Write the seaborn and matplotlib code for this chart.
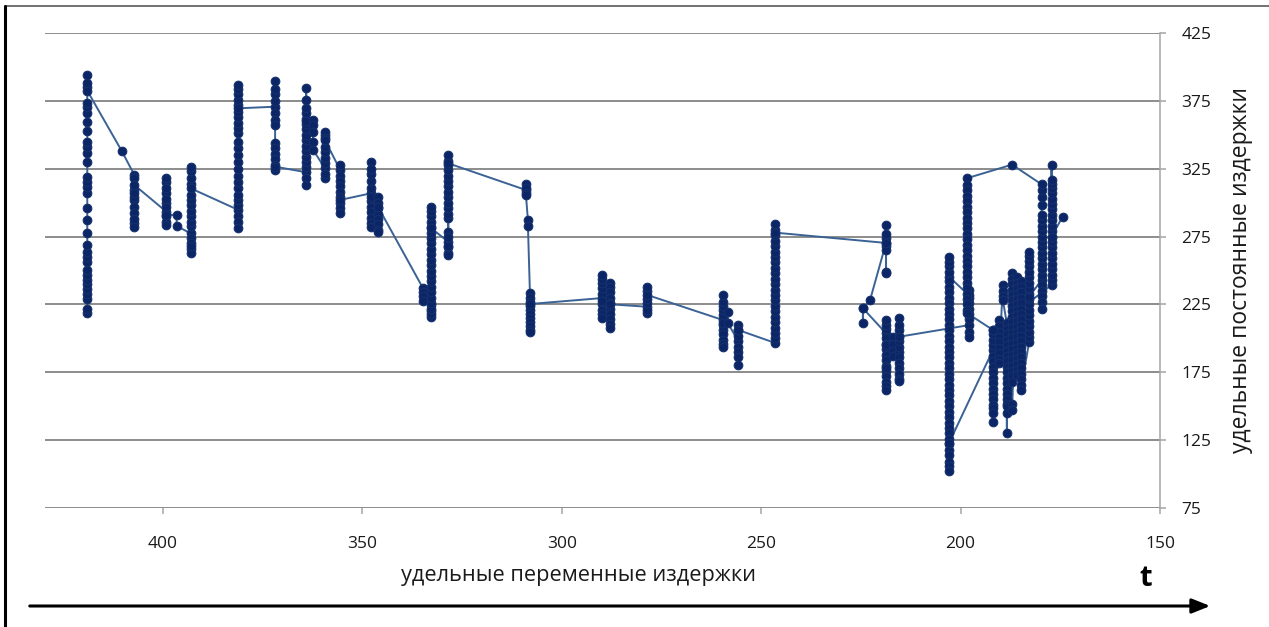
import matplotlib
matplotlib.use("Agg")
import matplotlib.pyplot as plt
from matplotlib.lines import Line2D
from matplotlib.patches import FancyArrowPatch
import seaborn as sns
import pandas as pd

# ---------------- data ----------------
# x position of each vertical group of observations (unit variable cost), in time order
cluster_x = [419.0, 410.4, 407.2, 399.2, 396.6, 393.1, 381.1, 371.9, 364.1, 362.4,
             359.4, 355.6, 347.8, 346.1, 334.8, 332.8, 328.5, 309.0, 308.5, 308.0,
             289.9, 287.9, 278.6, 259.6, 258.3, 255.8, 246.5, 218.7, 222.7, 224.5,
             218.7, 217.0, 215.4, 198.0, 202.9, 191.9, 190.4, 189.4, 188.4, 187.1,
             185.9, 184.9, 182.8, 179.7, 187.1, 198.4, 191.9, 177.2, 174.4]

# unit fixed cost observations of each group, in time order
cluster_y = [
    [218.5, 221.4, 228.8, 232.7, 236.2, 240.1, 243.0, 246.7, 250.4, 256.5, 260.2, 263.9,
     268.8, 277.9, 287.2, 295.8, 306.9, 311.8, 315.4, 319.1, 330.2, 336.4, 340.8, 344.9,
     353.0, 359.6, 365.8, 370.7, 373.6, 385.4, 388.0, 394.1, 382.5],
    [338.3],
    [320.4, 317.9, 309.3, 302.0, 297.0, 292.2, 284.8, 282.3, 288.0, 304.4, 306.9, 313.0],
    [293.4, 300.0, 307.0, 315.0, 317.9, 311.0, 303.0, 297.0, 290.0, 286.0, 283.5, 291.0],
    [290.9, 282.8],
    [277.4, 274.0, 270.0, 266.0, 262.7, 268.0, 282.5, 286.0, 290.0, 294.0, 298.0, 302.0,
     306.0, 314.0, 318.0, 323.0, 326.5, 310.6],
    [294.6, 290.0, 286.0, 281.1, 298.0, 302.0, 306.0, 311.0, 315.0, 320.0, 325.0, 330.0,
     335.0, 340.0, 344.9, 351.3, 355.0, 359.0, 363.0, 367.0, 372.0, 376.0, 380.0, 384.0,
     386.7, 369.5],
    [370.7, 375.0, 380.0, 384.0, 389.9, 366.0, 361.0, 357.0, 344.0, 340.0, 336.0, 332.0,
     328.0, 324.0, 326.5],
    [322.4, 318.0, 313.0, 326.0, 330.0, 334.0, 338.0, 342.0, 346.0, 350.0, 354.0, 358.0,
     362.0, 366.0, 370.0, 376.0, 384.2, 360.0],
    [361.0, 357.0, 352.0, 345.0, 339.0],
    [325.3, 318.0, 321.0, 329.0, 333.0, 337.0, 341.0, 350.0, 352.0, 348.0, 346.2],
    [324.1, 327.7, 320.0, 316.0, 312.0, 308.0, 304.0, 300.0, 296.0, 292.4, 302.0],
    [306.9, 311.0, 316.0, 321.0, 330.2, 325.0, 301.0, 297.0, 293.0, 289.0, 285.0, 282.3, 304.0],
    [304.0, 300.0, 296.0, 292.0, 288.0, 284.0, 280.0, 278.6, 297.0],
    [236.9, 234.0, 231.0, 227.5],
    [224.6, 220.0, 216.0, 218.0, 222.0, 226.0, 230.0, 234.0, 238.0, 242.0, 246.0, 250.0,
     254.0, 258.0, 262.0, 266.0, 270.0, 274.0, 278.0, 282.0, 286.0, 290.0, 294.0, 297.0, 281.3],
    [271.2, 278.6, 275.0, 267.0, 263.0, 261.4, 268.0, 288.7, 292.0, 296.0, 300.0, 304.0,
     308.0, 312.0, 316.0, 320.0, 324.0, 328.0, 331.0, 335.0, 329.0],
    [309.3, 314.0, 311.0, 307.0, 305.6],
    [287.0, 283.0],
    [233.5, 230.0, 227.0, 224.0, 221.0, 218.0, 215.0, 212.0, 209.0, 206.0, 204.7, 225.3],
    [229.7, 233.0, 237.0, 241.0, 244.0, 246.7, 225.0, 221.0, 218.0, 215.0, 227.7],
    [241.0, 238.0, 234.0, 230.0, 226.0, 222.0, 218.0, 214.0, 210.5, 207.6, 225.1],
    [223.3, 218.5, 221.0, 226.0, 229.0, 235.0, 238.0, 232.0],
    [213.5, 217.0, 221.0, 224.0, 227.0, 232.0, 210.0, 206.0, 203.0, 199.0, 196.0, 194.0, 211.0],
    [219.7, 211.0],
    [198.0, 194.0, 190.0, 186.0, 180.5, 202.0, 206.0, 210.0, 206.2],
    [196.6, 200.0, 204.0, 208.0, 212.0, 216.0, 220.0, 224.0, 228.0, 232.0, 236.0, 240.0,
     244.0, 248.0, 252.0, 256.0, 260.0, 264.0, 268.0, 272.0, 276.0, 280.0, 284.5, 277.9],
    [270.3, 274.0, 277.0, 283.5, 268.0, 265.0, 249.0, 248.0, 270.3],
    [228.3],
    [222.2, 211.6, 222.2],
    [203.7, 207.0, 210.0, 213.5, 200.0, 196.0, 192.0, 188.0, 184.0, 180.0, 176.0, 172.0,
     168.0, 165.0, 162.0, 178.0, 195.0],
    [201.0, 196.0, 191.0, 187.0],
    [190.0, 186.0, 182.0, 178.0, 174.0, 170.0, 168.3, 194.0, 198.0, 202.0, 206.0, 210.0,
     215.0, 201.2],
    [209.7, 205.0, 201.0, 214.0, 218.0, 222.0, 226.0, 230.0, 235.7, 231.9],
    [245.4, 249.0, 253.0, 256.0, 260.0, 242.0, 238.0, 234.0, 230.0, 226.0, 222.0, 218.0,
     214.0, 210.0, 206.0, 202.0, 198.0, 194.0, 190.0, 186.0, 182.0, 178.0, 174.0, 170.0,
     166.0, 162.0, 158.0, 154.0, 150.0, 146.0, 142.0, 138.0, 134.0, 130.0, 126.0, 122.0,
     118.0, 114.0, 109.2, 106.0, 102.5, 122.9],
    [191.4, 195.0, 199.0, 203.0, 206.2, 187.0, 183.0, 179.0, 175.0, 171.0, 167.0, 163.0,
     159.0, 155.0, 151.0, 148.7, 138.6, 145.0],
    [213.5, 209.0, 205.0, 201.0, 197.0, 193.0, 189.0, 185.0, 181.7],
    [239.0, 235.0, 231.0, 228.0],
    [211.0, 207.0, 203.0, 199.0, 195.0, 191.0, 187.0, 183.0, 179.0, 175.0, 171.0, 167.0,
     163.0, 159.0, 155.0, 152.0, 145.0, 130.5, 150.0],
    [248.0, 244.0, 240.0, 236.0, 232.0, 228.0, 224.0, 220.0, 216.0, 212.0, 208.0, 204.0,
     200.0, 196.0, 192.0, 188.0, 184.0, 180.0, 176.0, 172.0, 168.0, 152.0, 147.0],
    [245.0, 241.0, 237.0, 233.0, 229.0, 225.0, 221.0, 217.0, 213.0, 209.0, 205.0, 201.0,
     197.0, 193.0, 189.0, 185.0, 181.0, 177.0, 173.0],
    [242.0, 238.0, 234.0, 230.0, 226.0, 222.0, 218.0, 214.0, 210.0, 206.0, 202.0, 198.0,
     194.0, 190.0, 186.0, 182.0, 178.0, 174.0, 170.0, 166.0, 162.0],
    [197.6, 201.0, 205.0, 209.0, 213.0, 217.0, 221.0, 225.0, 229.0, 233.0, 237.0, 241.0,
     245.0, 249.0, 253.0, 257.0, 261.0, 264.0, 230.7],
    [243.0, 239.0, 235.0, 231.0, 227.0, 222.0, 247.0, 251.0, 255.0, 259.0, 263.0, 267.0,
     271.0, 275.0, 279.0, 283.0, 287.0, 291.0, 298.3, 304.0, 309.0, 313.5],
    [328.0],
    [318.0, 313.0, 309.0, 305.0, 301.0, 297.0, 293.0, 289.0, 285.0, 281.0, 277.0, 273.0,
     269.0, 265.0, 261.0, 257.0, 253.0, 249.0, 245.0, 241.0, 237.0, 233.0, 229.0, 225.0,
     221.0, 218.6],
    [206.2],
    [239.3, 243.0, 247.0, 251.0, 255.0, 259.0, 263.0, 267.0, 271.0, 275.0, 279.0, 283.0,
     287.0, 291.0, 295.0, 299.0, 303.0, 307.0, 311.0, 314.0, 316.7, 327.7, 275.0],
    [289.7],
]

x_ticks = [400, 350, 300, 250, 200, 150]
y_ticks = [75, 125, 175, 225, 275, 325, 375, 425]
x_label = "удельные переменные издержки"
y_label = "удельные постоянные издержки"
time_label = "t"

# ---------------- build table ----------------
xs, ys = [], []
for cx, cys in zip(cluster_x, cluster_y):
    xs.extend([cx] * len(cys))
    ys.extend(cys)
df = pd.DataFrame({"var_cost": xs, "fixed_cost": ys})

# ---------------- style ----------------
sns.set_style("white")
plt.rcParams["font.family"] = ["Open Sans", "DejaVu Sans"]

W, H = 1269, 627
fig = plt.figure(figsize=(W / 100, H / 100), dpi=100)
ax_l, ax_r, ax_t, ax_b = 45, 1160, 33, 508
ax = fig.add_axes([ax_l / W, 1 - ax_b / H, (ax_r - ax_l) / W, (ax_b - ax_t) / H])

sns.lineplot(data=df, x="var_cost", y="fixed_cost", sort=False, estimator=None, ax=ax,
             color="#3a6294", linewidth=1.4, marker="o", markersize=6.2,
             markerfacecolor="#0b2566", markeredgecolor="#15316c", markeredgewidth=0.8)

ax.set_xlim(429.6, 150)
ax.set_ylim(75, 425)
ax.set_xticks(x_ticks)
ax.set_yticks(y_ticks)

ax.yaxis.grid(True, color="#8c8c8c", linewidth=1.4)
ax.xaxis.grid(False)
ax.set_axisbelow(True)

for s in ["left", "top", "bottom"]:
    ax.spines[s].set_visible(False)
ax.spines["right"].set_visible(True)
ax.spines["right"].set_color("#a6a6a6")
ax.spines["right"].set_linewidth(1.1)

ax.yaxis.tick_right()
ax.tick_params(axis="y", which="major", right=True, left=False, direction="out",
               length=4.5, width=1.1, color="#a6a6a6", pad=11, labelsize=12.5,
               labelcolor="#1a1a1a")
ax.tick_params(axis="x", which="major", bottom=True, direction="out", length=4,
               width=1.1, color="#a6a6a6", pad=16, labelsize=12.5, labelcolor="#1a1a1a")

ax.set_xlabel(x_label, fontsize=15.7, color="#1a1a1a")
ax.xaxis.set_label_coords((578 - ax_l) / (ax_r - ax_l), -(575 - ax_b) / (ax_b - ax_t))
ax.xaxis.label.set_verticalalignment("center")

ax.yaxis.set_label_position("right")
ax.set_ylabel(y_label, fontsize=16.5, color="#1a1a1a", rotation=90)
ax.yaxis.label.set_verticalalignment("center")
ax.yaxis.label.set_horizontalalignment("center")
ax.yaxis.set_label_coords((1241 - ax_l) / (ax_r - ax_l), (ax_b - 270) / (ax_b - ax_t))

# time label and arrow
fig.text(1146 / W, 1 - 578 / H, time_label, fontsize=21, fontweight="bold",
         ha="center", va="center", color="black")
arrow = FancyArrowPatch((27 / W, 1 - 606 / H), (1213 / W, 1 - 606 / H),
                        transform=fig.transFigure,
                        arrowstyle="-|>,head_length=0.55,head_width=0.22",
                        mutation_scale=20, lw=2.2, color="black")
fig.add_artist(arrow)

# outer frame pieces
fig.add_artist(Line2D([5 / W, 1], [1 - 6 / H, 1 - 6 / H], transform=fig.transFigure,
                      color="#5a5a5a", lw=1.2))
fig.add_artist(Line2D([5 / W, 5 / W], [0, 1 - 6 / H], transform=fig.transFigure,
                      color="black", lw=2.2))

fig.savefig("out.png", dpi=100, facecolor="white")
